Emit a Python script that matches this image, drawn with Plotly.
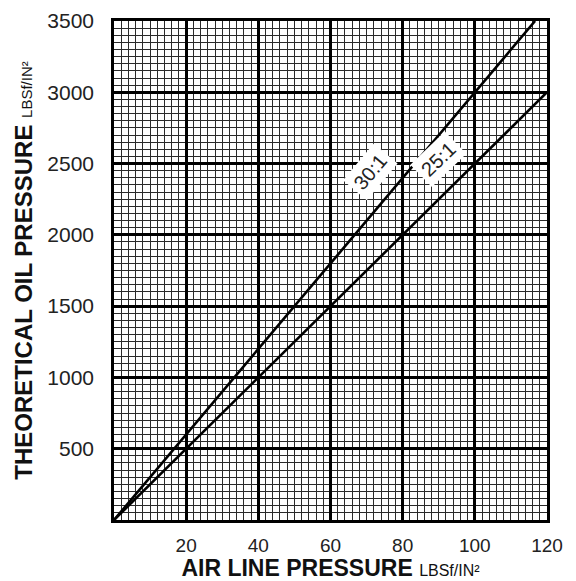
import plotly.graph_objects as go

air_pressure_30 = [0, 20, 40, 60, 80, 100, 116.7]
oil_pressure_30 = [0, 600, 1200, 1800, 2400, 3000, 3500]
air_pressure_25 = [0, 20, 40, 60, 80, 100, 120]
oil_pressure_25 = [0, 500, 1000, 1500, 2000, 2500, 3000]

x_ticks = [20, 40, 60, 80, 100, 120]
y_ticks = [500, 1000, 1500, 2000, 2500, 3000, 3500]

labels = ["30:1", "25:1"]
label_x = [71.0, 90.0]
label_y = [2440, 2530]
label_angle = [-50, -44]

FONT = "Liberation Sans, Arial, Helvetica, sans-serif"

fig = go.Figure()
fig.add_trace(go.Scatter(x=air_pressure_30, y=oil_pressure_30, mode="lines",
                         line=dict(color="black", width=2.6), showlegend=False, hoverinfo="skip"))
fig.add_trace(go.Scatter(x=air_pressure_25, y=oil_pressure_25, mode="lines",
                         line=dict(color="black", width=2.6), showlegend=False, hoverinfo="skip"))

for t, x, y, a in zip(labels, label_x, label_y, label_angle):
    fig.add_annotation(x=x, y=y, text=t, showarrow=False, textangle=a,
                       font=dict(family=FONT, size=20, color="#222"),
                       bgcolor="white", borderpad=4)

fig.update_layout(
    width=576, height=581,
    margin=dict(l=114, r=29, t=21, b=61),
    paper_bgcolor="white", plot_bgcolor="white",
    font=dict(family=FONT, color="#222"),
    xaxis=dict(
        range=[0, 120], tickvals=x_ticks, ticktext=[str(v) for v in x_ticks],
        tickfont=dict(size=19, family=FONT, color="#222"),
        showgrid=True, gridcolor="black", gridwidth=2.5,
        minor=dict(dtick=2, showgrid=True, gridcolor="#2a2a2a", gridwidth=1.3),
        showline=True, linecolor="black", linewidth=2.5, mirror=True,
        ticks="", ticklabelstandoff=6, zeroline=False, automargin=False,
        title=dict(text="<b>AIR LINE PRESSURE</b> <span style='font-size:16px'>LBSf/IN²</span>",
                   font=dict(size=23, family=FONT, color="#111"), standoff=9),
    ),
    yaxis=dict(
        range=[0, 3500], tickvals=y_ticks, ticktext=[str(v) for v in y_ticks],
        tickfont=dict(size=21, family=FONT, color="#222"),
        showgrid=True, gridcolor="black", gridwidth=2.5,
        minor=dict(dtick=50, showgrid=True, gridcolor="#2a2a2a", gridwidth=1.3),
        showline=True, linecolor="black", linewidth=2.5, mirror=True,
        ticks="", ticklabelstandoff=13, zeroline=False, automargin=False,
        title=dict(text="<b>THEORETICAL OIL PRESSURE</b> <span style='font-size:15px'>LBSf/IN²</span>",
                   font=dict(size=24, family=FONT, color="#111"), standoff=8),
    ),
)

fig.write_html("out.html", config={"displayModeBar": False},
               post_script="document.body.style.margin='0';document.body.style.padding='0';")
